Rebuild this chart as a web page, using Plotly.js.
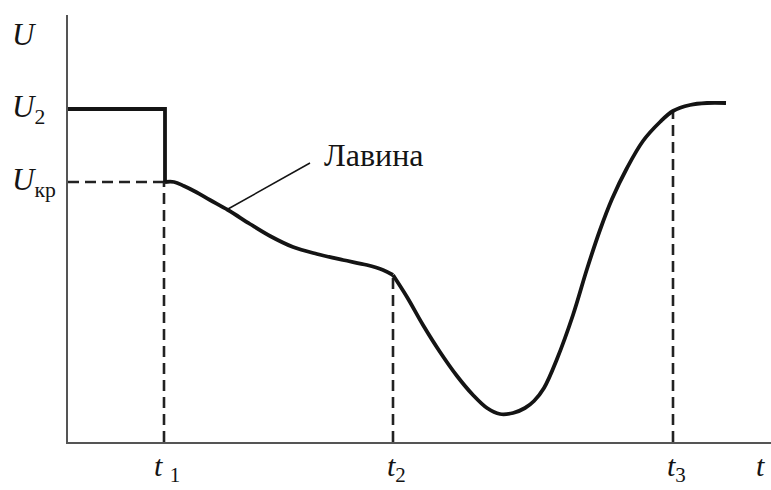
<!DOCTYPE html>
<html>
<head>
<meta charset="utf-8">
<script src="https://cdn.plot.ly/plotly-3.0.1.min.js"></script>
<style>html,body{margin:0;padding:0;background:#fff;}#chart{width:771px;height:490px;}</style>
</head>
<body>
<div id="chart"></div>
<script>
// ---- data (arbitrary units: time t, voltage U) ----
const levelU2 = 333;
const levelUcr = 260;
const t1 = 96, t2 = 325, t3 = 605;

// applied voltage before breakdown (step)
const stepT = [0, 97, 97];
const stepU = [333, 333, 260];

// avalanche stage t1..t2
const avalancheT = [97, 106, 116, 128, 142, 160, 182, 202, 225, 249, 275, 299, 315, 325];
const avalancheU = [260, 260, 256, 250, 242, 232, 218, 206, 195, 188, 182, 177, 172, 167];

// after t2: drop and recovery
const recoveryT = [325, 339, 355, 372, 389, 405, 419, 432, 445, 457, 466, 476, 489, 505, 519, 532, 544, 559, 575, 592, 605, 622, 639, 658];
const recoveryU = [167, 145, 117, 90, 66, 47, 34, 28, 29, 34, 41, 54, 83, 127, 173, 212, 243, 274, 301, 320, 331, 337, 339, 339];

// tick labels
const xTickVals = [t1, t2, t3];
const xTickText = ['<i>t</i> <sub>1</sub>', '<i>t</i><sub>2</sub>', '<i>t</i><sub>3</sub>'];
const yTickVals = [408, levelU2, levelUcr];
const yTickText = ['<i>U</i>', '<i>U</i><sub>2</sub>', '<i>U</i><sub>кр</sub>'];
const xAxisLabel = '<i>t</i>';
const xAxisLabelPos = 692;

// annotation "Лавина" with leader line
const calloutText = 'Лавина';
const calloutPos = [254, 287];
const leaderT = [160, 242];
const leaderU = [233, 279];

// ---- drawing ----
const X_MAX = 703, Y_MAX = 427;
const px = v => v / X_MAX;
const py = v => v / Y_MAX;
const serif = 'Liberation Serif, Times New Roman, Times, serif';
const ink = '#141414';
const dash = {color: '#222', width: 2.6, dash: '11px,6px'};
const LW = 3.8;

const traces = [
  {x: [0, t1], y: [levelUcr, levelUcr], mode: 'lines', line: dash},
  {x: [t1, t1], y: [0, levelUcr], mode: 'lines', line: dash},
  {x: [t2, t2], y: [0, recoveryU[0]], mode: 'lines', line: dash},
  {x: [t3, t3], y: [0, recoveryU[recoveryT.indexOf(t3)]], mode: 'lines', line: dash},
  {x: stepT, y: stepU, mode: 'lines', line: {color: ink, width: LW}},
  {x: avalancheT, y: avalancheU, mode: 'lines', line: {color: ink, width: LW, shape: 'spline', smoothing: 1}},
  {x: recoveryT, y: recoveryU, mode: 'lines', line: {color: ink, width: LW, shape: 'spline', smoothing: 1}},
  {x: leaderT, y: leaderU, mode: 'lines', line: {color: ink, width: 1.5}}
];

const annotations = [];
xTickVals.forEach((v, i) => annotations.push({
  x: px(v), y: py(-5), xref: 'paper', yref: 'paper', text: xTickText[i], showarrow: false,
  xanchor: 'center', yanchor: 'top', xshift: 3, font: {family: serif, size: 30, color: ink}
}));
annotations.push({
  x: px(xAxisLabelPos), y: py(-5), xref: 'paper', yref: 'paper', text: xAxisLabel, showarrow: false,
  xanchor: 'center', yanchor: 'top', font: {family: serif, size: 30, color: ink}
});
yTickVals.forEach((v, i) => annotations.push({
  x: px(-58), y: py(v), xref: 'paper', yref: 'paper', text: yTickText[i], showarrow: false,
  xanchor: 'left', yanchor: 'middle', font: {family: serif, size: 31, color: ink}
}));
annotations.push({
  x: px(calloutPos[0]), y: py(calloutPos[1]), xref: 'paper', yref: 'paper', text: calloutText, showarrow: false,
  xanchor: 'left', yanchor: 'middle', font: {family: serif, size: 32, color: ink}
});

const layout = {
  width: 771, height: 490,
  margin: {l: 68, r: 0, t: 15, b: 48, pad: 0},
  paper_bgcolor: '#fff', plot_bgcolor: '#fff',
  showlegend: false,
  xaxis: {range: [0, X_MAX], showline: true, linecolor: '#555', linewidth: 1.6, showgrid: false,
          zeroline: false, showticklabels: false, ticks: '', fixedrange: true},
  yaxis: {range: [0, Y_MAX], showline: true, linecolor: '#555', linewidth: 1.6, showgrid: false,
          zeroline: false, showticklabels: false, ticks: '', fixedrange: true},
  annotations: annotations
};

Plotly.newPlot('chart', traces, layout, {displayModeBar: false, staticPlot: true});
</script>
</body>
</html>
